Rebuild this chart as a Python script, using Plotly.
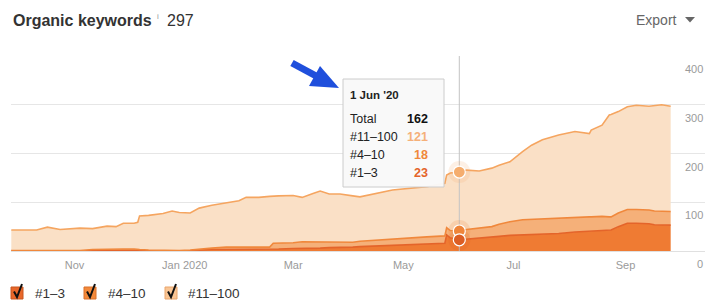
import plotly.graph_objects as go

# ---------------- data ----------------
dates = [
    "2019-09-27", "2019-10-11", "2019-10-17", "2019-10-24", "2019-11-04", "2019-11-11",
    "2019-11-19", "2019-11-24", "2019-11-28", "2019-12-04", "2019-12-06", "2019-12-07",
    "2019-12-12", "2019-12-20", "2019-12-25", "2019-12-29", "2020-01-04", "2020-01-09",
    "2020-01-16", "2020-01-24", "2020-01-31", "2020-02-04", "2020-02-11", "2020-02-17",
    "2020-02-19", "2020-02-22", "2020-03-01", "2020-03-06", "2020-03-12", "2020-03-16",
    "2020-03-21", "2020-03-27", "2020-04-03", "2020-04-07", "2020-04-25", "2020-05-14",
    "2020-05-24", "2020-05-25", "2020-05-27", "2020-06-01", "2020-06-05", "2020-06-12",
    "2020-06-19", "2020-06-23", "2020-06-29", "2020-07-06", "2020-07-11", "2020-07-17",
    "2020-07-26", "2020-08-04", "2020-08-12", "2020-08-13", "2020-08-19", "2020-08-23",
    "2020-08-24", "2020-08-28", "2020-09-02", "2020-09-07", "2020-09-14", "2020-09-17",
    "2020-09-21", "2020-09-26",
]
pos_1_3 = [1, 1, 1, 1, 1, 1, 1, 1, 1, 1, 1, 1, 1, 1, 1, 1, 1, 2, 3, 3, 3, 4, 4, 4, 4, 4,
           5, 5, 6, 6, 7, 7, 8, 9, 12, 14, 16, 33, 27, 23, 24, 27, 29, 30, 32, 33, 34, 35,
           36, 39, 41, 41, 42, 43, 43, 50, 57, 57, 56, 54, 54, 53]
pos_4_10 = [0, 0, 0, 0, 0, 2, 3, 3, 3, 3, 3, 2, 1, 0, 0, 0, 1, 2, 3, 5, 5, 4, 4, 4, 12, 12,
            12, 14, 13, 13, 11, 11, 10, 11, 13, 15, 15, 15, 15, 18, 20, 20, 21, 25, 28, 31,
            31, 31, 31, 30, 29, 29, 29, 27, 27, 28, 28, 28, 28, 28, 28, 28]
pos_11_100 = [42, 42, 48, 43, 46, 43, 47, 46, 53, 53, 55, 69, 71, 76, 81, 78, 76, 84, 88,
              91, 95, 102, 102, 104, 96, 97, 97, 91, 99, 104, 99, 99, 95, 91, 100, 103,
              108, 108, 118, 121, 122, 117, 120, 121, 123, 140, 152, 162, 171, 176, 171,
              178, 187, 209, 210, 208, 211, 214, 213, 216, 218, 216]

series_names = ["#1–3", "#4–10", "#11–100"]
tick_dates = ["2019-11-01", "2020-01-01", "2020-03-01", "2020-05-01", "2020-07-01", "2020-09-01"]
tick_text = ["Nov", "Jan 2020", "Mar", "May", "Jul", "Sep"]
y_ticks = [0, 100, 200, 300, 400]
hover_date = "2020-06-01"
hover_label = "1 Jun '20"
total_keywords = "297"

# ---------------- styling ----------------
W, H = 719, 307
L, R, T, B = 11, 705, 56, 251
FONT = "Liberation Sans, Arial, Helvetica, sans-serif"
line_cols = ["#e4642a", "#f0883c", "#f5a560"]
fill_cols = ["#ef7b33", "#f5b079", "#fae0c6"]
val_cols = ["#e4642a", "#f0883c", "#f5b079"]


def px(x):
    return (x - L) / (R - L)


def py(y):
    return (B - y) / (B - T)


fig = go.Figure()
for name, vals, lc, fc in zip(series_names, [pos_1_3, pos_4_10, pos_11_100], line_cols, fill_cols):
    fig.add_trace(go.Scatter(
        x=dates, y=vals, name=name, mode="lines", stackgroup="one",
        line=dict(color=lc, width=1.6), fillcolor=fc, hoverinfo="skip",
    ))

# hover vertical line (as a trace so it sits above the areas but below markers)
fig.add_trace(go.Scatter(x=[hover_date, hover_date], y=[0, 400], mode="lines", showlegend=False,
                         hoverinfo="skip", line=dict(color="#c4c4c4", width=1)))

# hover markers
i = dates.index(hover_date)
cum = []
s = 0
for vals in [pos_1_3, pos_4_10, pos_11_100]:
    s += vals[i]
    cum.append(s)
marker_cols = ["#dc5e24", "#ef853a", "#f5ad6e"]
fig.add_trace(go.Scatter(x=[hover_date] * 3, y=cum, mode="markers", showlegend=False,
                         hoverinfo="skip",
                         marker=dict(size=22, color=marker_cols, opacity=0.18, line=dict(width=0))))
for c, mc in reversed(list(zip(cum, marker_cols))):
    fig.add_trace(go.Scatter(x=[hover_date], y=[c], mode="markers", showlegend=False,
                             hoverinfo="skip",
                             marker=dict(size=12, color=mc, line=dict(color="white", width=1.2))))

shapes = []
annotations = []

# y labels (below gridlines, right aligned)
for v in y_ticks:
    annotations.append(dict(xref="paper", yref="y", x=1, y=v, text=str(v), showarrow=False,
                            xanchor="right", yanchor="middle", yshift=-13,
                            font=dict(family=FONT, size=11, color="#9a9a9a")))

# title
annotations.append(dict(xref="paper", yref="paper", x=px(11), y=py(21), text="<b>Organic keywords</b>",
                        showarrow=False, xanchor="left", yanchor="middle",
                        font=dict(family=FONT, size=16, color="#333333")))
annotations.append(dict(xref="paper", yref="paper", x=px(155), y=py(16), text="i",
                        showarrow=False, xanchor="left", yanchor="middle",
                        font=dict(family=FONT, size=8, color="#999999")))
annotations.append(dict(xref="paper", yref="paper", x=px(165), y=py(21), text=total_keywords,
                        showarrow=False, xanchor="left", yanchor="middle",
                        font=dict(family=FONT, size=16, color="#333333")))
annotations.append(dict(xref="paper", yref="paper", x=px(679), y=py(20), text="Export",
                        showarrow=False, xanchor="right", yanchor="middle",
                        font=dict(family=FONT, size=14, color="#666666")))
shapes.append(dict(type="path", xref="paper", yref="paper",
                   path=f"M {px(685)} {py(17)} L {px(695)} {py(17)} L {px(690)} {py(22.5)} Z",
                   fillcolor="#666666", line=dict(width=0)))

# tooltip box
shapes.append(dict(type="rect", xref="paper", yref="paper", x0=px(343), x1=px(444),
                   y0=py(187), y1=py(79), fillcolor="rgba(249,249,249,0.97)",
                   line=dict(color="#cccccc", width=1), layer="above"))
annotations.append(dict(xref="paper", yref="paper", x=px(348), y=py(95), text=f"<b>{hover_label}</b>",
                        showarrow=False, xanchor="left", yanchor="middle",
                        font=dict(family=FONT, size=11.5, color="#222222")))
rows = [("Total", cum[2], "#111111"),
        (series_names[2], pos_11_100[i], val_cols[2]),
        (series_names[1], pos_4_10[i], val_cols[1]),
        (series_names[0], pos_1_3[i], val_cols[0])]
for k, (lab, val, col) in enumerate(rows):
    yy = 119 + k * 18
    annotations.append(dict(xref="paper", yref="paper", x=px(348), y=py(yy), text=lab,
                            showarrow=False, xanchor="left", yanchor="middle",
                            font=dict(family=FONT, size=12.5, color="#222222")))
    annotations.append(dict(xref="paper", yref="paper", x=px(430), y=py(yy), text=f"<b>{val}</b>",
                            showarrow=False, xanchor="right", yanchor="middle",
                            font=dict(family=FONT, size=12.5, color=col)))

# blue arrow
ax0, ay0 = 292, 63
tipx, tipy = 339, 88
shapes.append(dict(type="line", xref="paper", yref="paper", x0=px(ax0), y0=py(ay0),
                   x1=px(318), y1=py(77), line=dict(color="#1f4fdc", width=7), layer="above"))
shapes.append(dict(type="path", xref="paper", yref="paper",
                   path=f"M {px(tipx)} {py(tipy)} L {px(320)} {py(66)} L {px(309)} {py(86)} Z",
                   fillcolor="#1f4fdc", line=dict(width=0), layer="above"))

# legend (custom checkboxes)
legend_boxes = [(11, 33), (84, 106), (165, 186)]
box_fill = ["#e8672a", "#f3893a", "#f9c594"]
box_line = ["#c8561f", "#d9712b", "#eaa66c"]
for (bx, tx), name, bf, bl in zip(legend_boxes, series_names, box_fill, box_line):
    shapes.append(dict(type="rect", xref="paper", yref="paper", x0=px(bx), x1=px(bx + 12),
                       y0=py(299), y1=py(287), fillcolor=bf, line=dict(color=bl, width=1)))
    shapes.append(dict(type="path", xref="paper", yref="paper",
                       path=f"M {px(bx + 3)} {py(291.5)} L {px(bx + 6)} {py(297)} L {px(bx + 11)} {py(284)}",
                       line=dict(color="#111111", width=2)))
    annotations.append(dict(xref="paper", yref="paper", x=px(tx), y=py(293), text=name,
                            showarrow=False, xanchor="left", yanchor="middle",
                            font=dict(family=FONT, size=13.5, color="#333333")))

fig.update_layout(
    width=W, height=H,
    margin=dict(l=L, r=W - R, t=T, b=H - B),
    paper_bgcolor="white", plot_bgcolor="white",
    showlegend=False, hovermode=False,
    shapes=shapes, annotations=annotations,
    font=dict(family=FONT),
    xaxis=dict(type="date", range=["2019-09-26 20:00", "2020-10-15 00:00"],
               tickmode="array", tickvals=tick_dates, ticktext=tick_text,
               showgrid=False, zeroline=False, showline=False, ticks="",
               ticklabelstandoff=6,
               tickfont=dict(family=FONT, size=11, color="#9a9a9a"),
               fixedrange=True),
    yaxis=dict(range=[0, 400], tickvals=y_ticks, showticklabels=False,
               showgrid=True, gridcolor="#e6e6e6", gridwidth=1,
               zeroline=True, zerolinecolor="#e0e0e0", zerolinewidth=1,
               fixedrange=True),
)

fig.write_html("out.html", config={"displayModeBar": False})
